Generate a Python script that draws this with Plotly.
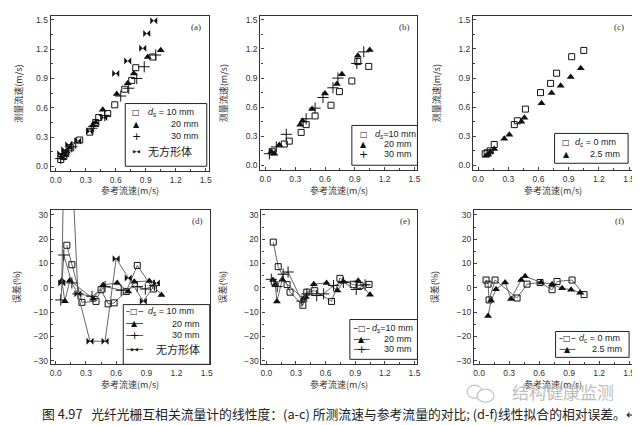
import plotly.graph_objects as go

W, H = 640, 425

# ---- data ----
# (a) measured vs reference velocity
A_X10 = [0.05, 0.08, 0.10, 0.15, 0.24, 0.34, 0.40, 0.43, 0.52, 0.59, 0.69, 0.76, 0.80, 0.97]
A_Y10 = [0.07, 0.10, 0.13, 0.19, 0.27, 0.35, 0.45, 0.50, 0.54, 0.63, 0.79, 0.88, 1.01, 1.12]
A_X20 = [0.06, 0.09, 0.11, 0.14, 0.37, 0.40, 0.47, 0.61, 0.72, 0.78, 0.92, 1.05]
A_Y20 = [0.09, 0.12, 0.15, 0.19, 0.42, 0.45, 0.58, 0.74, 0.85, 0.95, 1.12, 1.19]
A_X30 = [0.05, 0.08, 0.16, 0.20, 0.36, 0.38, 0.49, 0.65, 0.73, 0.81, 0.885, 1.00]
A_Y30 = [0.08, 0.12, 0.20, 0.24, 0.39, 0.41, 0.52, 0.72, 0.80, 0.90, 1.02, 1.14]
A_XB = [0.05, 0.09, 0.13, 0.22, 0.34, 0.48, 0.60, 0.72, 0.87, 0.91, 0.98]
A_YB = [0.13, 0.17, 0.22, 0.26, 0.36, 0.50, 0.95, 1.08, 1.21, 1.36, 1.49]

# (b)
B_X10 = [0.07, 0.19, 0.24, 0.36, 0.41, 0.50, 0.66, 0.745, 0.87, 0.93, 1.04]
B_Y10 = [0.14, 0.22, 0.25, 0.34, 0.42, 0.51, 0.62, 0.76, 0.87, 1.07, 1.02]
B_X20 = [0.06, 0.09, 0.14, 0.35, 0.375, 0.47, 0.60, 0.72, 0.77, 0.93, 1.05]
B_Y20 = [0.14, 0.12, 0.21, 0.42, 0.46, 0.58, 0.74, 0.84, 0.94, 1.13, 1.19]
B_X30 = [0.04, 0.11, 0.21, 0.41, 0.50, 0.58, 0.68, 0.73, 0.92, 0.99]
B_Y30 = [0.12, 0.19, 0.32, 0.48, 0.59, 0.70, 0.80, 0.90, 1.05, 1.17]

# (c)
C_X0 = [0.07, 0.09, 0.12, 0.16, 0.36, 0.39, 0.47, 0.62, 0.72, 0.78, 0.93, 1.05]
C_Y0 = [0.12, 0.13, 0.15, 0.215, 0.42, 0.46, 0.58, 0.75, 0.845, 0.95, 1.12, 1.185]
C_X25 = [0.08, 0.10, 0.12, 0.16, 0.26, 0.31, 0.43, 0.46, 0.63, 0.73, 0.82, 0.92, 1.02]
C_Y25 = [0.10, 0.11, 0.14, 0.17, 0.275, 0.315, 0.45, 0.49, 0.64, 0.745, 0.82, 0.91, 1.00]

# (d) relative error, %
D_X10 = [0.11, 0.16, 0.26, 0.40, 0.45, 0.52, 0.58, 0.70, 0.81, 0.97]
D_Y10 = [17.5, 9.5, -6.0, -5.6, -0.8, -6.6, -6.2, -1.5, 9.2, -0.5]
D_X20 = [0.06, 0.09, 0.14, 0.37, 0.47, 0.61, 0.72, 0.78, 0.93, 1.05]
D_Y20 = [3.0, -5.5, 3.0, -4.5, 1.2, 2.0, -1.5, 2.5, 2.8, -3.0]
D_X30 = [0.05, 0.08, 0.16, 0.22, 0.36, 0.49, 0.65, 0.81, 0.89, 0.98]
D_Y30 = [-5.0, 13.5, 2.0, -2.5, -3.5, 0.5, -1.0, 0.5, -0.5, 1.0]
D_XB = [0.06, 0.09, 0.13, 0.22, 0.34, 0.49, 0.60, 0.72, 0.87, 1.00]
D_YB = [2.0, 80.0, 80.0, -2.5, -22.0, -22.0, 12.0, 4.0, -5.5, 2.0]

# (e)
E_X10 = [0.07, 0.12, 0.21, 0.24, 0.37, 0.41, 0.49, 0.66, 0.745, 0.88, 0.95, 1.04]
E_Y10 = [18.8, 8.7, 1.3, -1.8, -7.2, -1.8, -1.2, -5.6, 3.9, 1.3, 0.9, 1.4]
E_X20 = [0.067, 0.09, 0.107, 0.16, 0.376, 0.40, 0.48, 0.61, 0.72, 0.78, 0.93, 1.05]
E_Y20 = [3.2, 1.5, -5.6, 3.3, -4.5, -3.8, 1.5, 2.0, -1.1, 2.5, 2.9, -2.9]
E_X30 = [0.05, 0.11, 0.17, 0.22, 0.36, 0.41, 0.51, 0.58, 0.68, 0.78, 0.91, 1.00]
E_Y30 = [3.5, 0.5, 5.6, 6.5, -5.5, -2.5, -3.2, -2.5, 0.9, 2.2, -0.7, 1.2]

# (f)
F_X0 = [0.07, 0.09, 0.10, 0.16, 0.38, 0.48, 0.61, 0.73, 0.78, 0.93, 1.05]
F_Y0 = [3.2, 1.5, -5.0, 3.2, -4.2, 1.5, 2.2, -0.8, 2.6, 3.2, -2.8]
F_X25 = [0.09, 0.12, 0.17, 0.26, 0.32, 0.42, 0.46, 0.62, 0.73, 0.83, 0.92, 1.01]
F_Y25 = [-11.6, -5.2, -0.6, 2.2, -4.6, 3.2, 4.7, 2.2, 1.5, -0.2, -0.8, -2.0]

X_TICKS = [0.0, 0.3, 0.6, 0.9, 1.2, 1.5]
V_TICKS = [0.0, 0.3, 0.6, 0.9, 1.2, 1.5]
E_TICKS = [-30, -20, -10, 0, 10, 20, 30]

N10_S = '<i>d</i><sub>s</sub> = 10 mm'
N10_S2 = '<i>d</i><sub>s</sub>=10 mm'
N0_C = '<i>d</i><sub>c</sub> = 0 mm'
NB = '无方形体'

INK = '#111111'
LINE = '#555555'
FRAME = '#333333'

# plot boxes in pixels: left, right, top, bottom
BOXES = [
    (42, 201, 7, 163), (253, 411, 7, 162), (467, 627, 7, 162),
    (42, 202, 202, 357), (254, 411, 202, 357), (468, 627, 202, 357),
]

fig = go.Figure()

MARK = {
    'sq': dict(symbol='square-open', size=6, color=INK, line=dict(width=1, color=INK)),
    'tri': dict(symbol='triangle-up', size=7, color=INK),
    'plus': dict(symbol='cross-thin-open', size=8, color=INK, line=dict(width=1, color=INK)),
    'bow': dict(symbol='bowtie', size=7, color=INK),
}
GLYPH = {'sq': '□', 'tri': '▲', 'plus': '+', 'bow': '▶◀'}
GSIZE = {'sq': 8, 'tri': 8, 'plus': 11, 'bow': 4.5}


def add(i, xs, ys, name, kind, lines):
    fig.add_trace(go.Scatter(
        x=xs, y=ys, name=name,
        mode='lines+markers' if lines else 'markers',
        marker=MARK[kind],
        line=dict(color=LINE, width=0.9),
        xaxis='x' if i == 1 else 'x%d' % i,
        yaxis='y' if i == 1 else 'y%d' % i,
        showlegend=False,
    ))


add(1, A_X10, A_Y10, N10_S, 'sq', False)
add(1, A_X20, A_Y20, '20 mm', 'tri', False)
add(1, A_X30, A_Y30, '30 mm', 'plus', False)
add(1, A_XB, A_YB, NB, 'bow', False)

add(2, B_X10, B_Y10, N10_S2, 'sq', False)
add(2, B_X20, B_Y20, '20 mm', 'tri', False)
add(2, B_X30, B_Y30, '30 mm', 'plus', False)

add(3, C_X0, C_Y0, N0_C, 'sq', False)
add(3, C_X25, C_Y25, '2.5 mm', 'tri', False)

add(4, D_X10, D_Y10, N10_S, 'sq', True)
add(4, D_X20, D_Y20, '20 mm', 'tri', True)
add(4, D_X30, D_Y30, '30 mm', 'plus', True)
add(4, D_XB, D_YB, NB, 'bow', True)

add(5, E_X10, E_Y10, N10_S2, 'sq', True)
add(5, E_X20, E_Y20, '20 mm', 'tri', True)
add(5, E_X30, E_Y30, '30 mm', 'plus', True)

add(6, F_X0, F_Y0, N0_C, 'sq', True)
add(6, F_X25, F_Y25, '2.5 mm', 'tri', True)

TICKFONT = dict(family='Liberation Sans, Arial', size=8.5, color='#333333')
TITLEFONT = dict(family='Noto Sans CJK SC', size=9, color='#333333')
LEGFONT = dict(family='Liberation Sans, Arial', size=9, color='#222222')

annotations = []
shapes = []
layout = dict(
    width=W, height=H,
    margin=dict(l=0, r=0, t=0, b=0),
    paper_bgcolor='white', plot_bgcolor='white',
    showlegend=False,
)


def px(x, y):
    return x / W, 1 - y / H


LETTERS = ['(a)', '(b)', '(c)', '(d)', '(e)', '(f)']
Y_STANDOFF = [11, 16, 16, 11, 16, 16]

for i, (l, r, t, b) in enumerate(BOXES, start=1):
    sx = '' if i == 1 else str(i)
    top = i <= 3
    layout['xaxis' + sx] = dict(
        domain=[l / W, r / W], anchor='y' + sx, range=[-0.05, 1.53],
        tickvals=X_TICKS, tickformat='.1f', ticks='inside', ticklen=3,
        minor=dict(ticks='inside', ticklen=2, dtick=0.15, tick0=0),
        showline=True, mirror=True, linecolor=FRAME, linewidth=1.2,
        showgrid=False, zeroline=False, tickfont=TICKFONT,
    )
    layout['yaxis' + sx] = dict(
        domain=[1 - b / H, 1 - t / H], anchor='x' + sx,
        range=[-0.05, 1.54] if top else [-31.5, 32],
        tickvals=V_TICKS if top else E_TICKS,
        tickformat='.1f' if top else 'd',
        ticks='inside', ticklen=3,
        minor=dict(ticks='inside', ticklen=2, dtick=0.15 if top else 5, tick0=0),
        showline=True, mirror=True, linecolor=FRAME, linewidth=1.2,
        showgrid=False, zeroline=False, tickfont=TICKFONT,
        title=dict(text='测量流速(m/s)' if top else '误差(%)', font=TITLEFONT,
                   standoff=Y_STANDOFF[i - 1]),
    )
    # x-axis title
    tx, ty = px((l + r) / 2, 182 if top else 377)
    annotations.append(dict(
        text='参考流速(m/s)', xref='paper', yref='paper', x=tx, y=ty,
        showarrow=False, xanchor='center', yanchor='middle', font=TITLEFONT,
    ))
    annotations.append(dict(
        text=LETTERS[i - 1], xref='x%s domain' % sx, yref='y%s domain' % sx,
        x=0.92, y=0.93, showarrow=False, xanchor='center', yanchor='middle',
        font=dict(family='Liberation Serif', size=9, color='#333333'),
    ))


# ---- legends drawn as boxes of text, placed in pixels ----
def legend_box(l, r, t, b):
    x0, y1 = px(l, t)
    x1, y0 = px(r, b)
    shapes.append(dict(type='rect', xref='paper', yref='paper', x0=x0, x1=x1, y0=y0, y1=y1,
                       line=dict(color='#222222', width=1), fillcolor='white', layer='above'))


def legend_row(kind, sx, y, label, tx, anchor, seg=None, big=False):
    if seg:
        a0, _ = px(seg[0], y)
        a1, yy = px(seg[1], y)
        shapes.append(dict(type='line', xref='paper', yref='paper', x0=a0, x1=a1, y0=yy, y1=yy,
                           line=dict(color=LINE, width=1), layer='above'))
    gx, gy = px(sx, y)
    annotations.append(dict(
        text=GLYPH[kind], xref='paper', yref='paper', x=gx, y=gy,
        showarrow=False, xanchor='center', yanchor='middle',
        font=dict(family='DejaVu Sans', size=GSIZE[kind], color=INK),
        bgcolor='white' if (seg and kind == 'sq') else None, borderpad=0,
    ))
    lx, ly = px(tx, y)
    font = dict(family='Noto Sans CJK SC', size=11, color='#222222') if big else LEGFONT
    annotations.append(dict(
        text=label, xref='paper', yref='paper', x=lx, y=ly,
        showarrow=False, xanchor=anchor, yanchor='middle', font=font,
    ))


# (a)
legend_box(117, 199, 95, 158)
legend_row('sq', 128, 104, N10_S, 138, 'left')
legend_row('tri', 128, 116, '20 mm', 193, 'right')
legend_row('plus', 128, 128, '30 mm', 193, 'right')
legend_row('bow', 128, 143, NB, 138, 'left', big=True)
# (b)
legend_box(345, 411, 117, 157)
legend_row('sq', 357, 126, N10_S2, 366, 'left')
legend_row('tri', 357, 136, '20 mm', 408, 'right')
legend_row('plus', 357, 146, '30 mm', 408, 'right')
# (c)
legend_box(549, 623, 125, 155)
legend_row('sq', 561, 134, N0_C, 568, 'left')
legend_row('tri', 561, 146, '2.5 mm', 617, 'right')
# (d)
legend_box(115, 202, 297, 357)
legend_row('sq', 126, 304, N10_S, 138, 'left', seg=(118, 135))
legend_row('tri', 126, 316, '20 mm', 194, 'right', seg=(118, 135))
legend_row('plus', 126, 328, '30 mm', 194, 'right', seg=(118, 135))
legend_row('bow', 126, 342, NB, 146, 'left', seg=(118, 135), big=True)
# (e)
legend_box(343, 411, 312, 352)
legend_row('sq', 355, 321, N10_S2, 363, 'left', seg=(347, 363))
legend_row('tri', 355, 332, '20 mm', 408, 'right', seg=(347, 363))
legend_row('plus', 355, 342, '30 mm', 408, 'right', seg=(347, 363))
# (f)
legend_box(550, 624, 324, 350)
legend_row('sq', 562, 331, N0_C, 572, 'left', seg=(554, 570))
legend_row('tri', 562, 342, '2.5 mm', 619, 'right', seg=(554, 570))

# caption
cx, cy = px(333, 406)
annotations.append(dict(
    text='图 4.97   光纤光栅互相关流量计的线性度：(a-c) 所测流速与参考流量的对比; (d-f)线性拟合的相对误差。↵',
    xref='paper', yref='paper', x=cx, y=cy,
    showarrow=False, xanchor='center', yanchor='middle',
    font=dict(family='Noto Sans CJK SC', size=12.8, color='#222222'),
))

# watermark
wx, wy = px(557, 384)
annotations.append(dict(
    text='结构健康监测', xref='paper', yref='paper', x=wx, y=wy,
    showarrow=False, xanchor='center', yanchor='middle',
    font=dict(family='Noto Sans CJK SC', size=17, color='#bdbdbd'),
))
shapes.append(dict(type='circle', xref='paper', yref='paper',
                   x0=461 / W, x1=476 / W, y0=1 - 391 / H, y1=1 - 378 / H,
                   line=dict(color='#c4c4c4', width=1.2)))
shapes.append(dict(type='circle', xref='paper', yref='paper',
                   x0=471 / W, x1=488 / W, y0=1 - 395 / H, y1=1 - 382 / H,
                   line=dict(color='#c4c4c4', width=1.2), fillcolor='white'))

layout['annotations'] = annotations
layout['shapes'] = shapes
fig.update_layout(**layout)
fig.write_html('out.html')
